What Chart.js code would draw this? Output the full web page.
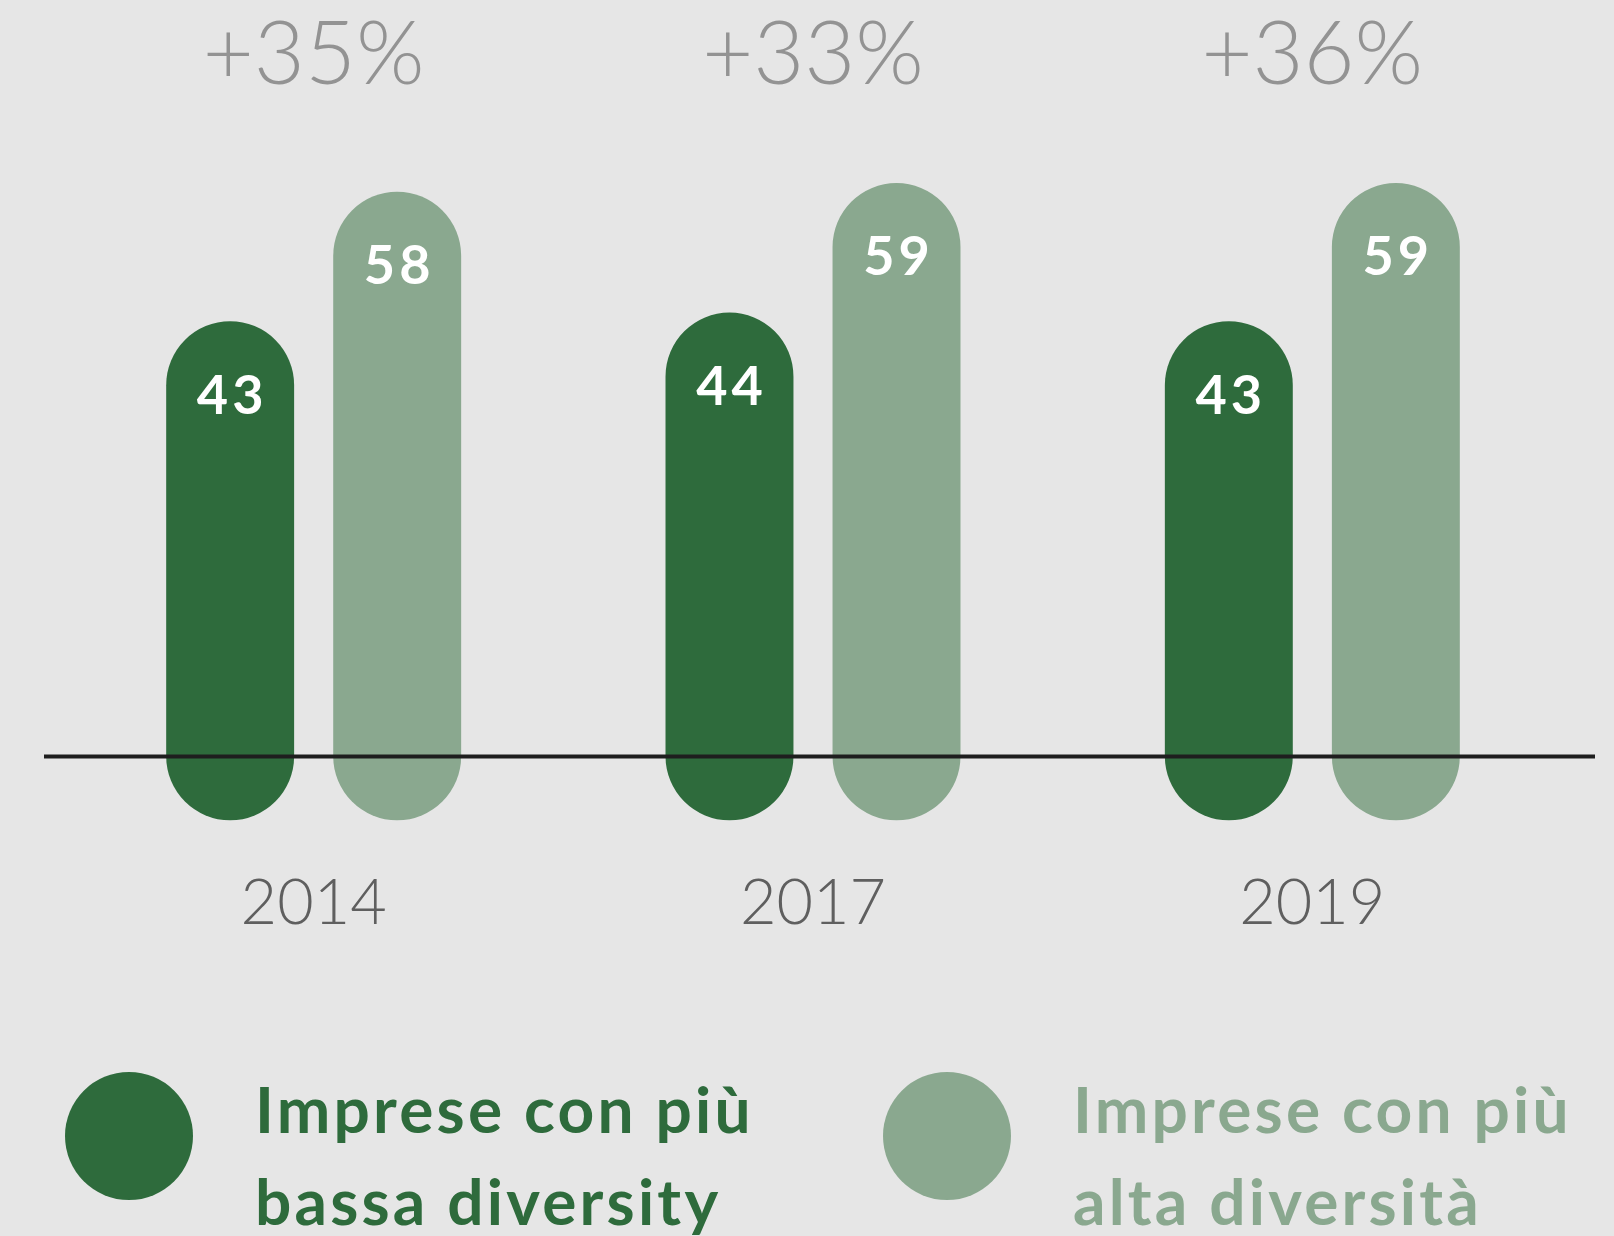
<!DOCTYPE html>
<html lang="it">
<head>
<meta charset="utf-8">
<title>Imprese e diversity</title>
<script src="https://cdn.jsdelivr.net/npm/chart.js@4.4.1/dist/chart.umd.min.js"></script>
<style>
  html, body { margin: 0; padding: 0; background: #e6e6e6; }
  #wrap { position: relative; width: 1614px; height: 1236px; overflow: hidden; }
  #chart { position: absolute; left: 0; top: 0; }
  .legend-item { position: absolute; top: 1072px; }
  .legend-item .dot { position: absolute; left: 0; top: 0; width: 128px; height: 128px; border-radius: 50%; }
  .legend-item .text {
    position: absolute; left: 190px; top: -9px; white-space: nowrap;
    font-family: Lato, sans-serif; font-weight: 700; font-size: 64px; line-height: 92px; letter-spacing: 3.2px;
  }
</style>
</head>
<body>
<div id="wrap">
  <canvas id="chart" width="1614" height="1236"></canvas>
  <div id="legend"></div>
</div>
<script>
const years = ['2014', '2017', '2019'];
const growth = ['+35%', '+33%', '+36%'];
const lowDiversity = [43, 44, 43];
const highDiversity = [58, 59, 59];
const seriesLines = [
  ['Imprese con più', 'bassa diversity'],
  ['Imprese con più', 'alta diversità'],
];
const seriesColors = ['#2e6b3c', '#8aa88f'];

// extra units so the rounded ends sit around the value and under the baseline
const CAP = 7.4;
const legendLeft = [65, 883];

function pill(values) {
  return values.map((v) => [-CAP, v + CAP]);
}

const valueLabels = {
  id: 'valueLabels',
  afterDatasetsDraw(chart) {
    const { ctx } = chart;
    const y = chart.scales.y;
    ctx.save();
    ctx.fillStyle = '#ffffff';
    ctx.font = 'bold 54px Lato';
    ctx.letterSpacing = '4px';
    ctx.textAlign = 'center';
    ctx.textBaseline = 'middle';
    chart.data.datasets.forEach((ds, i) => {
      chart.getDatasetMeta(i).data.forEach((bar, j) => {
        const v = ds.values[j];
        ctx.fillText(String(v), bar.x + 2, y.getPixelForValue(v) + 11);
      });
    });
    ctx.restore();
  },
};

const baseline = {
  id: 'baseline',
  afterDatasetsDraw(chart) {
    const { ctx, chartArea } = chart;
    const y0 = chart.scales.y.getPixelForValue(0);
    ctx.save();
    ctx.strokeStyle = '#1e1e1e';
    ctx.lineWidth = 4;
    ctx.beginPath();
    ctx.moveTo(chartArea.left - 20, y0);
    ctx.lineTo(chartArea.right + 33, y0);
    ctx.stroke();
    ctx.restore();
  },
};

function renderLegend(chart) {
  const box = document.getElementById('legend');
  box.innerHTML = chart.data.datasets
    .map(
      (ds, i) => `
      <div class="legend-item" style="left:${legendLeft[i]}px">
        <span class="dot" style="background:${ds.backgroundColor}"></span>
        <span class="text" style="color:${ds.backgroundColor}">${ds.lines.join('<br>')}</span>
      </div>`,
    )
    .join('');
}

const chart = new Chart(document.getElementById('chart'), {
  type: 'bar',
  data: {
    labels: years,
    datasets: [
      {
        label: seriesLines[0].join(' '),
        lines: seriesLines[0],
        values: lowDiversity,
        data: pill(lowDiversity),
        backgroundColor: seriesColors[0],
        borderRadius: 200,
        borderSkipped: false,
        categoryPercentage: 0.669,
        barPercentage: 0.766,
      },
      {
        label: seriesLines[1].join(' '),
        lines: seriesLines[1],
        values: highDiversity,
        data: pill(highDiversity),
        backgroundColor: seriesColors[1],
        borderRadius: 200,
        borderSkipped: false,
        categoryPercentage: 0.669,
        barPercentage: 0.766,
      },
    ],
  },
  options: {
    responsive: false,
    animation: false,
    layout: { padding: { left: 64, right: 52, top: 0, bottom: 286 } },
    plugins: {
      legend: { display: false },
      tooltip: { enabled: false },
    },
    scales: {
      x: {
        position: 'bottom',
        offset: true,
        grid: { display: false },
        border: { display: false },
        afterFit: (scale) => { scale.height = 90; },
        ticks: {
          color: '#5f5f5f',
          padding: -2,
          font: { family: 'Lato', size: 63, weight: 300 },
        },
      },
      top: {
        type: 'category',
        position: 'top',
        labels: growth,
        offset: true,
        grid: { display: false },
        border: { display: false },
        afterFit: (scale) => { scale.height = 152; },
        ticks: {
          color: '#939393',
          padding: 36,
          font: { family: 'Lato', size: 88, weight: 300 },
        },
      },
      y: { display: false, min: -12, max: 70 },
    },
  },
  plugins: [baseline, valueLabels],
});

renderLegend(chart);
</script>
</body>
</html>
